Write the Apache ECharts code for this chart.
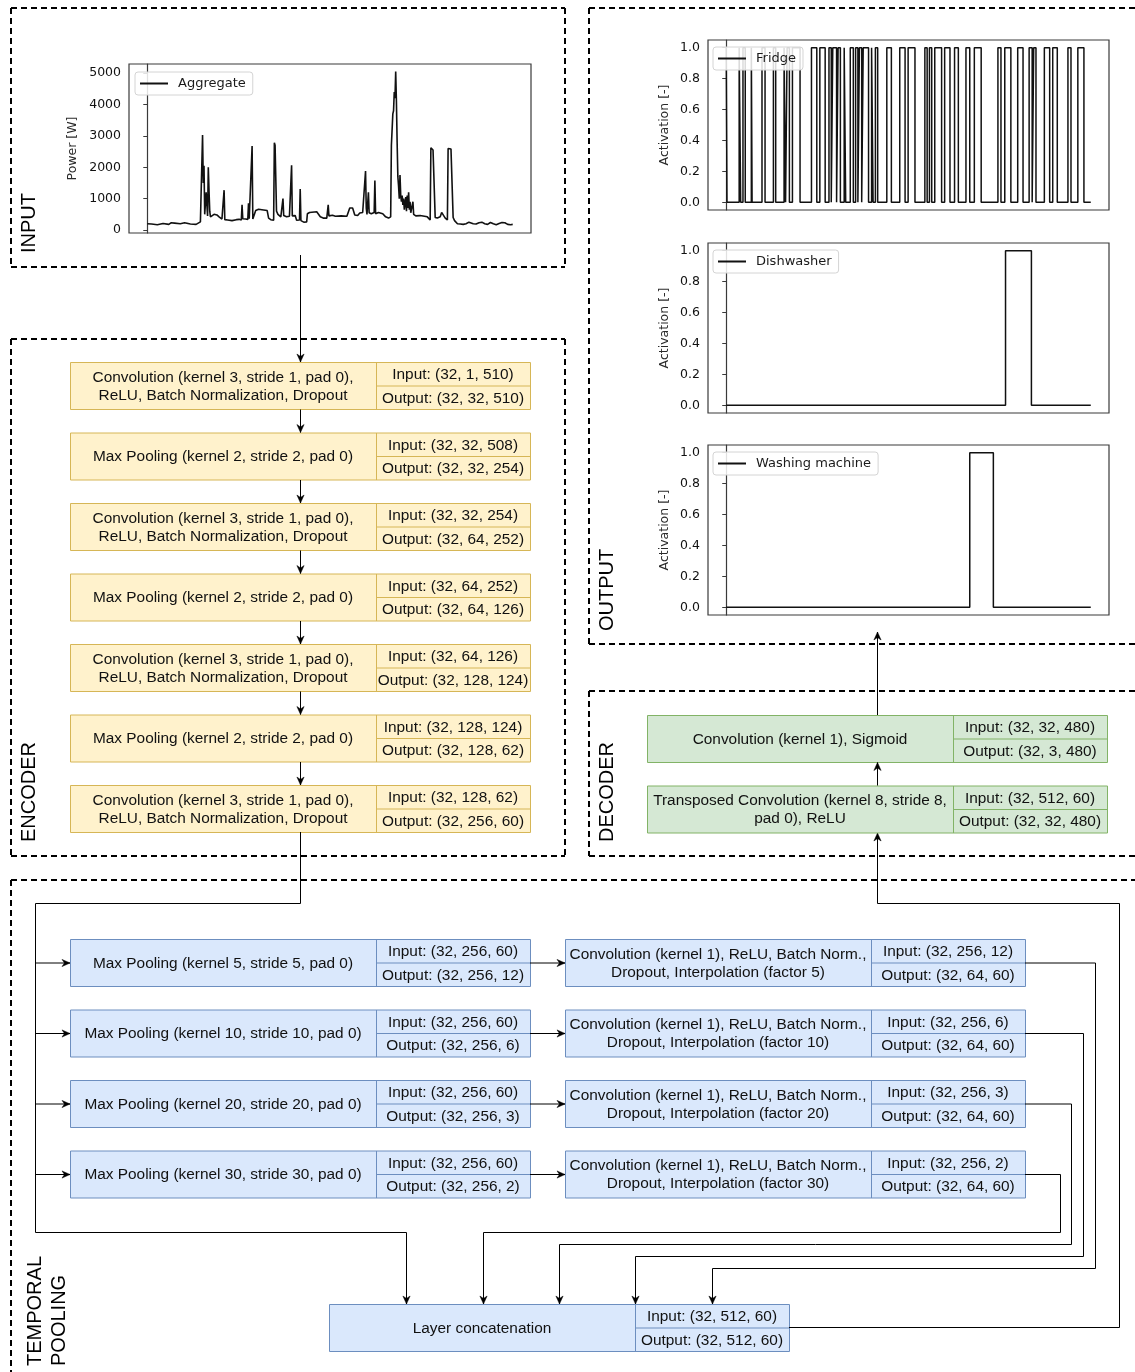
<!DOCTYPE html>
<html>
<head>
<meta charset="utf-8">
<script src="https://cdn.jsdelivr.net/npm/echarts@6/dist/echarts.min.js"></script>
<style>
html,body{margin:0;padding:0;background:#fff;}
#canvas{width:1135px;height:1372px;}
</style>
</head>
<body>
<div id="canvas"></div>
<script>
// aggregate power, sample index -> watts (510 samples)
var aggT = [0,6,8,14,16,22,24,30,33,38,40,46,48,52,54,60,62,68,70,74,76,77,78,79,80,82,84,85,86,87,88,90,93,95,97,100,104,106,107,108,112,118,124,128,131,132,133,137,140,141,142,144,146,147,149,151,155,162,167,169,172,176,177,178,179,180,182,186,188,189,190,194,198,200,201,202,206,208,212,213,214,218,222,223,226,236,238,241,245,250,252,253,258,262,270,278,282,286,289,293,296,300,304,305,306,308,309,312,316,317,318,322,328,332,336,339,340,341,342,343,344,345,346,347,348,349,350,351,352,353,354,355,356,357,358,359,360,361,362,363,364,365,366,367,368,370,371,374,380,386,390,394,395,396,397,398,400,401,404,408,410,412,415,418,419,421,423,425,426,428,432,436,440,444,448,450,454,458,462,466,470,474,478,482,486,490,494,498,502,506,509];
var aggP = [200,190,160,170,220,210,170,180,230,220,180,200,240,230,180,190,170,180,220,260,300,3030,1500,2050,500,1200,450,2000,1250,600,420,380,500,560,480,420,350,320,1270,330,320,300,330,340,320,800,360,350,340,850,360,330,2680,350,380,620,660,640,620,380,330,310,2780,2700,2750,600,500,420,450,1000,460,420,440,480,2060,450,460,310,320,1310,300,250,260,520,560,580,600,420,380,380,800,450,470,440,450,440,700,700,480,460,540,560,1880,700,500,1200,550,520,560,1580,520,560,520,420,380,420,2700,2700,3700,3800,4400,4200,5050,4100,2800,1700,1400,1000,1750,1100,900,1100,800,1000,650,700,1050,600,1100,700,1200,650,900,550,600,900,500,450,460,440,420,320,2620,2600,2580,2550,2520,400,380,420,560,500,380,320,2600,2600,2580,2600,400,300,200,190,180,200,250,240,200,190,230,250,200,180,240,200,170,210,240,230,180,170,180];

// output activations (480 samples): start state + switching samples
var fridgeStart = 1;
var fridgeEdges = [1,17,19,22,25,33,34,47,51,62,65,76,78,80,83,87,97,112,119,123,130,135,138,140,145,147,150,155,157,163,167,170,173,175,178,180,187,191,193,196,199,211,217,228,235,239,248,261,264,267,270,274,283,287,294,300,305,315,320,326,335,357,361,366,374,383,390,398,402,404,407,418,425,429,435,449,453,462,470];
var dishStart = 0;
var dishEdges = [367,401];
var washStart = 0;
var washEdges = [320,351];

var powerTicks = [0,1000,2000,3000,4000,5000];
var actTicks = [0,0.2,0.4,0.6,0.8,1.0];

var encLabels = [
  'Convolution (kernel 3, stride 1, pad 0),\nReLU, Batch Normalization, Dropout',
  'Max Pooling (kernel 2, stride 2, pad 0)',
  'Convolution (kernel 3, stride 1, pad 0),\nReLU, Batch Normalization, Dropout',
  'Max Pooling (kernel 2, stride 2, pad 0)',
  'Convolution (kernel 3, stride 1, pad 0),\nReLU, Batch Normalization, Dropout',
  'Max Pooling (kernel 2, stride 2, pad 0)',
  'Convolution (kernel 3, stride 1, pad 0),\nReLU, Batch Normalization, Dropout'
];
var encIn = ['(32, 1, 510)','(32, 32, 508)','(32, 32, 254)','(32, 64, 252)','(32, 64, 126)','(32, 128, 124)','(32, 128, 62)'];
var encOut = ['(32, 32, 510)','(32, 32, 254)','(32, 64, 252)','(32, 64, 126)','(32, 128, 124)','(32, 128, 62)','(32, 256, 60)'];

var poolLabels = ['Max Pooling (kernel 5, stride 5, pad 0)','Max Pooling (kernel 10, stride 10, pad 0)','Max Pooling (kernel 20, stride 20, pad 0)','Max Pooling (kernel 30, stride 30, pad 0)'];
var poolIn = ['(32, 256, 60)','(32, 256, 60)','(32, 256, 60)','(32, 256, 60)'];
var poolOut = ['(32, 256, 12)','(32, 256, 6)','(32, 256, 3)','(32, 256, 2)'];
var convLabels = [
  'Convolution (kernel 1), ReLU, Batch Norm.,\nDropout, Interpolation (factor 5)',
  'Convolution (kernel 1), ReLU, Batch Norm.,\nDropout, Interpolation (factor 10)',
  'Convolution (kernel 1), ReLU, Batch Norm.,\nDropout, Interpolation (factor 20)',
  'Convolution (kernel 1), ReLU, Batch Norm.,\nDropout, Interpolation (factor 30)'
];
var convIn = ['(32, 256, 12)','(32, 256, 6)','(32, 256, 3)','(32, 256, 2)'];
var convOut = ['(32, 64, 60)','(32, 64, 60)','(32, 64, 60)','(32, 64, 60)'];

var FONT = '"Liberation Sans", Arial, Helvetica, sans-serif';
var MPL = '"DejaVu Sans", sans-serif';
var YEL = ['#fff2cc','#d6b656'], BLU = ['#dae8fc','#6c8ebf'], GRN = ['#d5e8d4','#82b366'];

var els = [];

function txt(x, y, s, size) {
  els.push({type:'text', x:x, y:y, silent:true,
    style:{text:s, x:0, y:0, fill:'#111', font:(size||15.4)+'px '+FONT, align:'center', verticalAlign:'middle', lineHeight:18}});
}
function box(x, y, col, label, inT, outT) {
  var w = 460, sp = 306, h = 47;
  els.push({type:'rect', shape:{x:x+.5, y:y+.5, width:w, height:h}, style:{fill:col[0], stroke:col[1], lineWidth:1}});
  els.push({type:'line', shape:{x1:x+sp+.5, y1:y+.5, x2:x+sp+.5, y2:y+h+.5}, style:{stroke:col[1], lineWidth:1}});
  els.push({type:'line', shape:{x1:x+sp, y1:y+h/2+.5, x2:x+w, y2:y+h/2+.5}, style:{stroke:col[1], lineWidth:1}});
  txt(x+sp/2, y+h/2+1, label);
  txt(x+sp+(w-sp)/2, y+h/4+1, 'Input: '+inT);
  txt(x+sp+(w-sp)/2, y+h*3/4+1, 'Output: '+outT);
}
function arrow(pts) {
  els.push({type:'polyline', shape:{points:pts}, style:{stroke:'#000', lineWidth:1, fill:null}});
  var p = pts[pts.length-1], q = pts[pts.length-2];
  var dx = p[0]-q[0], dy = p[1]-q[1], L = Math.sqrt(dx*dx+dy*dy);
  dx /= L; dy /= L;
  var nx = -dy, ny = dx, len = 8, hw = 3.6, notch = 5.5;
  els.push({type:'polygon', shape:{points:[
    [p[0], p[1]],
    [p[0]-dx*len+nx*hw, p[1]-dy*len+ny*hw],
    [p[0]-dx*notch, p[1]-dy*notch],
    [p[0]-dx*len-nx*hw, p[1]-dy*len-ny*hw]
  ]}, style:{fill:'#000', stroke:'#000', lineWidth:0.5}});
}
function dash(x1, y1, x2, y2) {
  els.push({type:'line', shape:{x1:x1, y1:y1, x2:x2, y2:y2}, style:{stroke:'#000', lineWidth:2, lineDash:[6,4]}});
}

// section frames
dash(11,8,565,8); dash(11,8,11,267); dash(565,8,565,267); dash(11,267,565,267);
dash(11,339,565,339); dash(11,339,11,856); dash(565,339,565,856); dash(11,856,565,856);
dash(589,8,1135,8); dash(589,8,589,644); dash(589,644,1135,644);
dash(589,691,1135,691); dash(589,691,589,856); dash(589,856,1135,856);
dash(11,880,1135,880); dash(11,880,11,1372);

function sideLabel(x, y, s) {
  els.push({type:'text', x:x, y:y, rotation:Math.PI/2, silent:true,
    style:{text:s, x:0, y:0, fill:'#000', font:'20px '+FONT, align:'left', verticalAlign:'middle'}});
}
sideLabel(29, 253, 'INPUT');
sideLabel(29, 842, 'ENCODER');
sideLabel(607, 631, 'OUTPUT');
sideLabel(607, 842, 'DECODER');
sideLabel(35, 1366, 'TEMPORAL');
sideLabel(59, 1366, 'POOLING');

// encoder
var encY = [];
for (var i = 0; i < encLabels.length; i++) encY.push(362 + i*70.5);
arrow([[300.5,255],[300.5,362]]);
for (var i = 0; i < encLabels.length; i++) {
  box(70, encY[i], YEL, encLabels[i], encIn[i], encOut[i]);
  if (i > 0) arrow([[300.5, encY[i-1]+47.5],[300.5, encY[i]]]);
}

// temporal pooling
var rowY = [939, 1009.5, 1080, 1150.5];
var outX = [1095.5, 1083.5, 1071.5, 1060.5];
var outY = [1268.5, 1256.5, 1244.5, 1232.5];
var dropX = [712.5, 635.5, 559.5, 483.5];
for (var i = 0; i < 4; i++) {
  box(70, rowY[i], BLU, poolLabels[i], poolIn[i], poolOut[i]);
  box(565, rowY[i], BLU, convLabels[i], convIn[i], convOut[i]);
  var m = rowY[i] + 24;
  arrow([[35.5,m],[70,m]]);
  arrow([[530,m],[565,m]]);
  arrow([[1025,m],[outX[i],m],[outX[i],outY[i]],[dropX[i],outY[i]],[dropX[i],1304]]);
}
arrow([[300.5,832],[300.5,903.5],[35.5,903.5],[35.5,1232.5],[406.5,1232.5],[406.5,1304]]);
box(329, 1304, BLU, 'Layer concatenation', '(32, 512, 60)', '(32, 512, 60)');
arrow([[789,1327.5],[1119.5,1327.5],[1119.5,903.5],[877.5,903.5],[877.5,833]]);

// decoder
box(647, 715, GRN, 'Convolution (kernel 1), Sigmoid', '(32, 32, 480)', '(32, 3, 480)');
box(647, 785.5, GRN, 'Transposed Convolution (kernel 8, stride 8,\npad 0), ReLU', '(32, 512, 60)', '(32, 32, 480)');
arrow([[877.5,785.5],[877.5,762.5]]);
arrow([[877.5,715],[877.5,632]]);

// charts
function steps(start, edges, n) {
  var s = start, pts = [[0, s]];
  for (var i = 0; i < edges.length; i++) {
    pts.push([edges[i], s]);
    s = 1 - s;
    pts.push([edges[i], s]);
  }
  pts.push([n-1, s]);
  return pts;
}
var aggData = aggT.map(function (t, i) { return [t, aggP[i]]; });

var grids = [
  {left:129, top:64, width:402, height:169},
  {left:708, top:40, width:401, height:170},
  {left:708, top:243, width:401, height:170},
  {left:708, top:445, width:401, height:170}
];
grids.forEach(function (g) { g.show = true; g.borderColor = '#3a3a3a'; g.borderWidth = 1.2; g.backgroundColor = 'transparent'; });

function xAx(idx, n) {
  var pad = (n-1)*0.05;
  return {type:'value', gridIndex:idx, min:-pad, max:n-1+pad, axisLine:{show:false}, axisTick:{show:false}, axisLabel:{show:false}, splitLine:{show:false}};
}
function yAx(idx, lo, hi, ticks, name, gap, fmt) {
  return {type:'value', gridIndex:idx, min:lo, max:hi, name:name, nameLocation:'middle', nameGap:gap, nameRotate:90,
    nameTextStyle:{fontFamily:MPL, fontSize:12.5, color:'#2a2a2a'},
    axisLine:{show:true, lineStyle:{color:'#3a3a3a', width:1.2}},
    axisTick:{show:true, length:4, lineStyle:{color:'#3a3a3a'}, customValues:ticks},
    axisLabel:{margin:8, fontFamily:MPL, fontSize:12.5, color:'#111', customValues:ticks, formatter:fmt, padding:[4,0,0,0]},
    splitLine:{show:false}};
}
var fmtAct = function (v) { return v.toFixed(1); };

function lg(name, left, top) {
  return {data:[name], left:left, top:top, orient:'horizontal', selectedMode:false,
    icon:'rect', itemWidth:28, itemHeight:2, itemStyle:{color:'#111', borderWidth:0},
    padding:[5,7,5,5], borderColor:'#d4d4d4', borderWidth:1, borderRadius:3, backgroundColor:'rgba(255,255,255,0.85)',
    textStyle:{fontFamily:MPL, fontSize:13, color:'#1a1a1a', padding:[0,0,0,5]}};
}

function ser(name, idx, data, w) {
  return {name:name, type:'line', xAxisIndex:idx, yAxisIndex:idx, data:data, showSymbol:false, symbol:'none',
    color:'#111', lineStyle:{color:'#111', width:w}, silent:true};
}

var myChart = echarts.init(document.getElementById('canvas'));
var option = {
  animation:false,
  backgroundColor:'#fff',
  grid:grids,
  xAxis:[xAx(0,510), xAx(1,480), xAx(2,480), xAx(3,480)],
  yAxis:[
    yAx(0, -95, 5290, powerTicks, 'Power [W]', 50, function (v) { return String(v); }),
    yAx(1, -0.05, 1.05, actTicks, 'Activation [-]', 37, fmtAct),
    yAx(2, -0.05, 1.05, actTicks, 'Activation [-]', 37, fmtAct),
    yAx(3, -0.05, 1.05, actTicks, 'Activation [-]', 37, fmtAct)
  ],
  legend:[lg('Aggregate',135,72), lg('Fridge',713,47), lg('Dishwasher',713,250), lg('Washing machine',713,452)],
  series:[
    ser('Aggregate', 0, aggData, 1.6),
    ser('Fridge', 1, steps(fridgeStart, fridgeEdges, 480), 1.5),
    ser('Dishwasher', 2, steps(dishStart, dishEdges, 480), 1.5),
    ser('Washing machine', 3, steps(washStart, washEdges, 480), 1.5)
  ],
  graphic:{elements:els}
};
myChart.setOption(option);
</script>
</body>
</html>
